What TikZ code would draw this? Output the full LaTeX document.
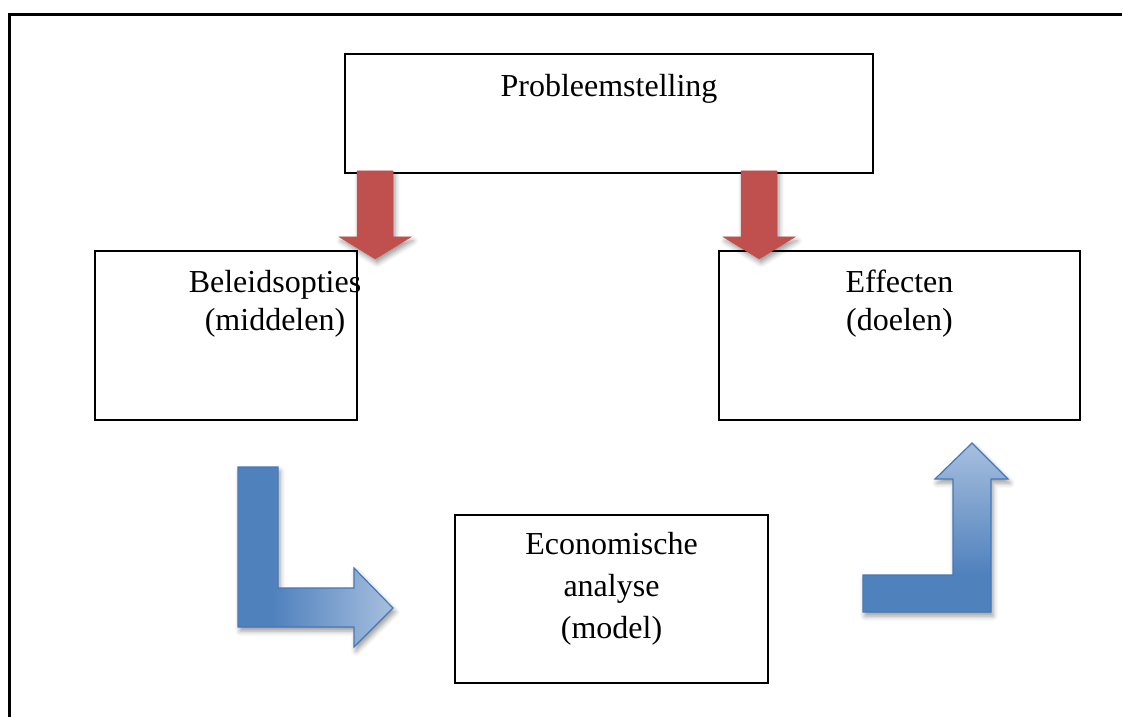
\documentclass[tikz,border=0pt]{standalone}
\usepackage{fontspec}
\setmainfont{Liberation Serif}
\usepackage{tikz}
\usetikzlibrary{%
	calc,%
	shadows.blur%
}

\definecolor{rood}{HTML}{C0504D}
\definecolor{blauwdonker}{HTML}{4F81BD}
\definecolor{blauwlicht}{HTML}{A7BFDE}
\definecolor{blauwrand}{HTML}{4677B8}

\pgfdeclarehorizontalshading{naarrechts}{100bp}{color(0bp)=(blauwdonker); color(36bp)=(blauwdonker); color(75bp)=(blauwlicht); color(100bp)=(blauwlicht)}
\pgfdeclareverticalshading{naarboven}{100bp}{color(0bp)=(blauwdonker); color(36bp)=(blauwdonker); color(75bp)=(blauwlicht); color(100bp)=(blauwlicht)}

\tikzset{
	vak/.style={draw=black, line width=1.7pt, rectangle, inner sep=0pt},
	tekst/.style={font=\fontsize{32}{38}\selectfont, align=center, inner sep=0pt, anchor=north},
	schaduw/.style={blur shadow={shadow xshift=2pt, shadow yshift=-4pt, shadow blur radius=5pt, shadow opacity=40}},
	rodepijl/.style={fill=rood, draw=rood, line width=0.5pt, schaduw},
	blauwepijl/.style={shade, draw=blauwrand, line width=1.2pt, schaduw}
}

\begin{document}
\begin{tikzpicture}[x=1pt,y=-1pt]
	\useasboundingbox (0,0) rectangle (1122,717);

	% Frame
	\draw[line width=3pt] (9,717) -- (9,15) -- (1122,15);

	% Boxes
	\node[vak, minimum width=528pt, minimum height=119pt] (prob) at (609,113.5) {};
	\node[vak, minimum width=262pt, minimum height=169pt] (bel) at (226,335.5) {};
	\node[vak, minimum width=361pt, minimum height=169pt] (eff) at (899.5,335.5) {};
	\node[vak, minimum width=313pt, minimum height=168pt] (eco) at (611.5,599) {};

	% Texts
	\node[tekst] (probtekst) at ($(prob.north)+(0,21)$) {Probleemstelling};
	\node[tekst] (beltekst) at ($(bel.north)+(49,20)$) {Beleidsopties\\(middelen)};
	\node[tekst] (efftekst) at ($(eff.north)+(0,20)$) {Effecten\\(doelen)};
	\node[tekst, font=\fontsize{32}{42}\selectfont] (ecotekst) at ($(eco.north)+(0,18)$) {Economische\\analyse\\(model)};

	% Blue bent arrows
	\coordinate (l1) at (238,467);
	\coordinate (l2) at (863,575);
	\path[blauwepijl, shading=naarrechts] (l1) -- ++(40,0) -- ++(0,121) -- ++(76,0) -- ++(0,-20)
		-- ++(39,40) -- ++(-39,39) -- ++(0,-20) -- ++(-116,0) -- cycle;
	\path[blauwepijl, shading=naarboven] (l2) -- ++(90,0) -- ++(0,-96) -- ++(-18,0) -- ++(37,-36)
		-- ++(36,36) -- ++(-17,0) -- ++(0,133) -- ++(-128,0) -- cycle;

	% Red arrows
	\coordinate (r1) at ($(prob.south west)+(31,-3)$);
	\coordinate (r2) at ($(prob.south west)+(415,-3)$);
	\foreach \pijl in {r1,r2}
	\path[rodepijl] (\pijl) ++(-18,0) -- ++(36,0) -- ++(0,66) -- ++(18,0) -- ++(-36,22)
		-- ++(-36,-22) -- ++(18,0) -- cycle;
\end{tikzpicture}
\end{document}
